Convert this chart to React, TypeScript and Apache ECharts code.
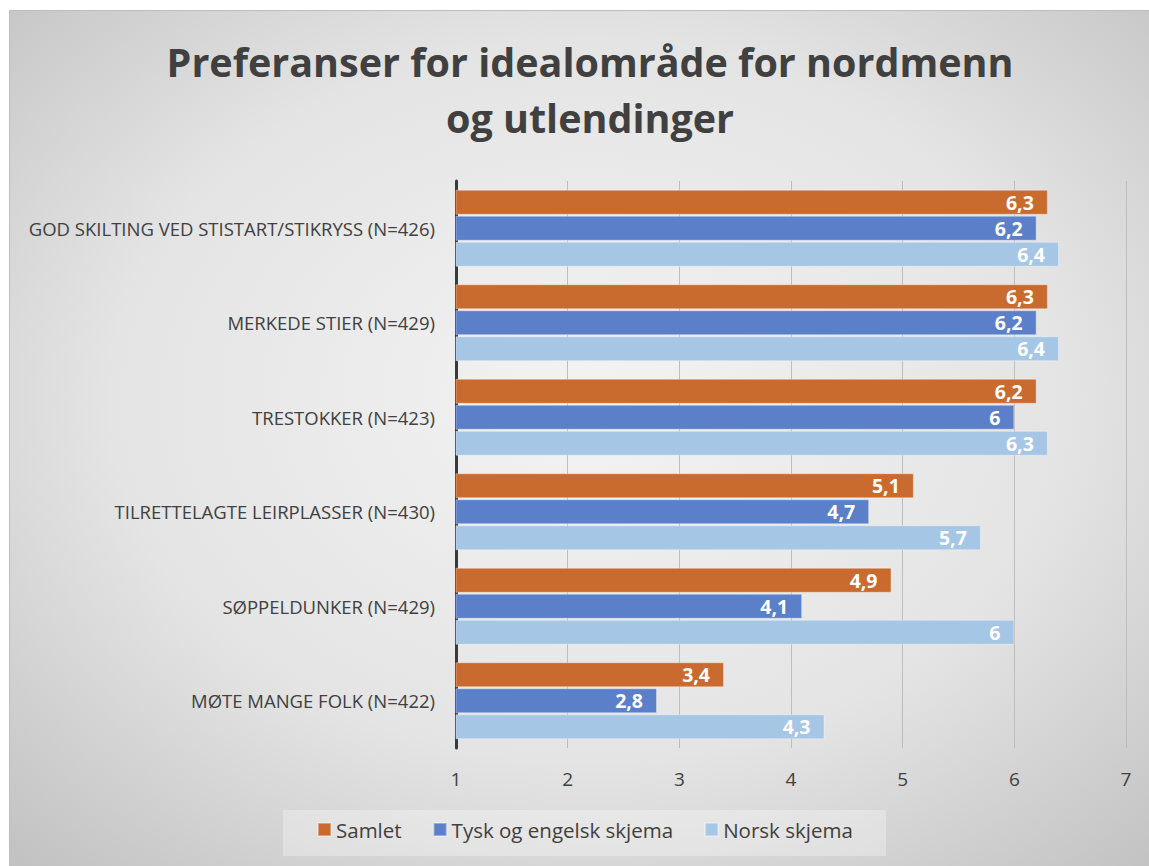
import React, { useEffect, useRef } from "react";
import * as echarts from "echarts";

const categories = [
  "GOD SKILTING VED STISTART/STIKRYSS (N=426)",
  "MERKEDE STIER (N=429)",
  "TRESTOKKER (N=423)",
  "TILRETTELAGTE LEIRPLASSER (N=430)",
  "SØPPELDUNKER (N=429)",
  "MØTE MANGE FOLK (N=422)",
];
const samlet = [6.3, 6.3, 6.2, 5.1, 4.9, 3.4];
const tyskEngelsk = [6.2, 6.2, 6.0, 4.7, 4.1, 2.8];
const norsk = [6.4, 6.4, 6.3, 5.7, 6.0, 4.3];
const seriesNames = ["Samlet", "Tysk og engelsk skjema", "Norsk skjema"];
const titleText = "Preferanser for idealområde for nordmenn\nog utlendinger";

const FONT = "'Open Sans', 'Noto Sans', sans-serif";
const colors = ["#C96B2F", "#5B80C9", "#A6C6E5"];

export default function App() {
  const ref = useRef<HTMLDivElement>(null);
  useEffect(() => {
    document.body.style.margin = "0";
    const chart = echarts.init(ref.current!, null, { renderer: "svg" });
    const label = {
      show: true,
      position: "insideRight",
      distance: 14,
      color: "#ffffff",
      fontFamily: FONT,
      fontWeight: "bold",
      fontSize: 19.5,
      formatter: (p: any) => String(p.value).replace(".", ","),
    };
    const mk = (name: string, data: number[], i: number) => ({
      name,
      type: "bar",
      data,
      barWidth: 25,
      barGap: "4%",
      label,
      itemStyle: {
        color: colors[i],
        borderColor: "rgba(255,255,255,0.35)",
        borderWidth: 1,
      },
    });
    chart.setOption({
      animation: false,
      color: colors,
      graphic: [
        {
          type: "rect",
          z: -10,
          shape: { x: 9.5, y: 10.5, width: 1160, height: 870 },
          style: {
            fill: new echarts.graphic.RadialGradient(0.5, 0.45, 0.75, [
              { offset: 0, color: "#f3f3f3" },
              { offset: 0.55, color: "#e4e4e4" },
              { offset: 1, color: "#bfbfbf" },
            ]),
            stroke: "#bdbdbd",
            lineWidth: 1,
          },
        },
        {
          type: "rect",
          z: -9,
          shape: { x: 283, y: 810, width: 603, height: 46 },
          style: { fill: "rgba(255,255,255,0.3)" },
        },
      ],
      title: {
        text: titleText,
        left: 585,
        textAlign: "center",
        top: 29,
        textStyle: {
          fontFamily: FONT,
          fontWeight: "bold",
          fontSize: 39.5,
          lineHeight: 56,
          color: "#404040",
        },
      },
      legend: {
        data: seriesNames,
        left: 312,
        top: 814,
        itemWidth: 13,
        itemHeight: 13,
        itemGap: 31,
        icon: "rect",
        textStyle: { fontFamily: FONT, fontSize: 20.5, color: "#404040" },
      },
      grid: { left: 456, right: 23, top: 181, bottom: 118, containLabel: false },
      xAxis: {
        type: "value",
        min: 1,
        max: 7,
        interval: 1,
        axisLine: { show: false },
        axisTick: { show: false },
        splitLine: { show: true, lineStyle: { color: "#bdbdbd", width: 1 } },
        axisLabel: {
          margin: 21,
          fontFamily: FONT,
          fontSize: 19,
          color: "#404040",
        },
      },
      yAxis: {
        type: "category",
        data: categories,
        inverse: true,
        axisLine: { show: true, lineStyle: { color: "#3a3a3a", width: 3 } },
        axisTick: { show: false },
        axisLabel: {
          margin: 21,
          fontFamily: FONT,
          fontSize: 18.5,
          color: "#404040",
        },
      },
      series: [
        mk(seriesNames[0], samlet, 0),
        mk(seriesNames[1], tyskEngelsk, 1),
        mk(seriesNames[2], norsk, 2),
      ],
    });
    return () => chart.dispose();
  }, []);
  return <div ref={ref} style={{ width: 1149, height: 866 }} />;
}
